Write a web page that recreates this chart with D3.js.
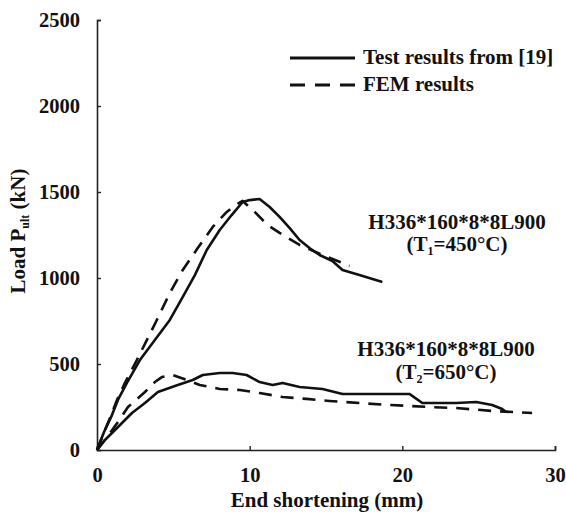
<!DOCTYPE html>
<html>
<head>
<meta charset="utf-8">
<script src="https://cdn.jsdelivr.net/npm/d3@7"></script>
<style>
  html, body { margin: 0; padding: 0; background: #fff; }
  svg { display: block; }
  text { font-family: "Liberation Serif", "Times New Roman", serif; font-weight: bold; fill: #111; }
</style>
</head>
<body>
<svg id="chart" width="566" height="521"></svg>
<script>
// ---- data (End shortening mm, Load kN) ----
const xTicks = [0, 10, 20, 30];
const yTicks = [0, 500, 1000, 1500, 2000, 2500];

const test450X = [0, 0.46, 0.98, 1.37, 1.96, 2.81, 3.79, 4.77, 5.62, 6.41, 7.19, 8.04, 8.82, 9.54, 10.0, 10.65, 11.31, 11.96, 12.61, 13.27, 13.92, 14.58, 15.42, 16.08, 17.19, 18.69];
const test450Y = [0, 105, 203, 291, 390, 523, 640, 756, 890, 1017, 1163, 1279, 1366, 1442, 1453, 1459, 1413, 1355, 1291, 1221, 1174, 1134, 1099, 1047, 1017, 977];

const fem450X = [0, 0.39, 0.85, 1.31, 1.83, 2.61, 3.27, 3.92, 4.77, 5.62, 6.60, 7.58, 8.50, 9.08, 9.54, 10.33, 11.18, 11.96, 13.27, 14.77, 16.08, 16.54];
const fem450Y = [0, 87, 186, 291, 390, 523, 640, 756, 913, 1047, 1174, 1297, 1384, 1424, 1448, 1384, 1308, 1262, 1192, 1134, 1087, 1070];

const test650X = [0, 0.52, 1.18, 2.29, 3.14, 3.99, 5.29, 6.27, 6.93, 8.04, 8.89, 9.80, 10.65, 11.50, 12.16, 13.27, 14.77, 16.08, 18.50, 20.46, 21.31, 23.53, 24.84, 25.88, 26.54, 26.80];
const test650Y = [0, 58, 116, 215, 273, 337, 378, 407, 436, 448, 448, 436, 395, 378, 390, 366, 355, 326, 326, 326, 273, 273, 279, 262, 238, 221];

const fem650X = [0, 0.72, 1.37, 2.03, 3.14, 3.79, 4.25, 4.97, 5.88, 6.73, 8.04, 9.35, 10.65, 12.16, 13.73, 15.23, 17.19, 19.15, 21.76, 23.53, 25.88, 28.50];
const fem650Y = [0, 81, 163, 250, 337, 395, 424, 436, 407, 378, 355, 349, 331, 308, 297, 285, 273, 262, 250, 244, 227, 215];

const legendLabels = ["Test results from [19]", "FEM results"];
const xTitle = "End shortening (mm)";

// ---- drawing ----
const svg = d3.select("#chart");
const x = d3.scaleLinear().domain([0, 30]).range([97, 555]);
const y = d3.scaleLinear().domain([0, 2500]).range([450, 20]);

const xAxis = d3.axisBottom(x).tickValues(xTicks).tickFormat(d3.format("d"))
  .tickSizeInner(-4).tickSizeOuter(-4).tickPadding(17);
const yAxis = d3.axisLeft(y).tickValues(yTicks).tickFormat(d3.format("d"))
  .tickSizeInner(-4).tickSizeOuter(-4).tickPadding(17);

const gx = svg.append("g").attr("transform", "translate(0,450)").call(xAxis);
const gy = svg.append("g").attr("transform", "translate(97,0)").call(yAxis);
[gx, gy].forEach(g => {
  g.selectAll("path.domain").attr("stroke", "#222").attr("stroke-width", 1.6);
  g.selectAll(".tick line").attr("stroke", "#222").attr("stroke-width", 1.4);
  g.selectAll(".tick text").style("font-size", "20.5px").style("font-family", '"Liberation Serif", serif')
    .style("font-weight", "bold").attr("fill", "#111");
});

const line = d3.line().x(d => x(d[0])).y(d => y(d[1])).curve(d3.curveLinear);
function series(xs, ys) { return xs.map((v, i) => [v, ys[i]]); }

const curves = [
  { d: series(test450X, test450Y), dash: null },
  { d: series(fem450X, fem450Y), dash: "13,9" },
  { d: series(test650X, test650Y), dash: null },
  { d: series(fem650X, fem650Y), dash: "13,9" }
];
curves.forEach(c => {
  svg.append("path").datum(c.d).attr("d", line)
    .attr("fill", "none").attr("stroke", "#111").attr("stroke-width", 2.6)
    .attr("stroke-linejoin", "round")
    .attr("stroke-dasharray", c.dash);
});

// legend
const legend = svg.append("g");
legend.append("line").attr("x1", 290).attr("x2", 355).attr("y1", 58).attr("y2", 58)
  .attr("stroke", "#111").attr("stroke-width", 2.8);
legend.append("line").attr("x1", 290).attr("x2", 355).attr("y1", 85).attr("y2", 85)
  .attr("stroke", "#111").attr("stroke-width", 2.8).attr("stroke-dasharray", "15,10");
legend.append("text").attr("x", 363).attr("y", 64).style("font-size", "21px").text(legendLabels[0]);
legend.append("text").attr("x", 363).attr("y", 91).style("font-size", "21px").text(legendLabels[1]);

// annotations
function annot(cx, y1, y2, sub, temp) {
  svg.append("text").attr("x", cx).attr("y", y1).attr("text-anchor", "middle")
    .style("font-size", "21px").text("H336*160*8*8L900");
  const t = svg.append("text").attr("x", cx).attr("y", y2).attr("text-anchor", "middle")
    .style("font-size", "21px");
  t.append("tspan").text("(T");
  t.append("tspan").attr("dy", 4).style("font-size", "12px").text(sub);
  t.append("tspan").attr("dy", -4).text("=" + temp + "°C)");
}
annot(457, 229, 251, "1", "450");
annot(446, 356, 379, "2", "650");

// axis titles
svg.append("text").attr("x", 327).attr("y", 507).attr("text-anchor", "middle")
  .style("font-size", "21px").text(xTitle);
const yt = svg.append("text").attr("transform", "translate(25,231) rotate(-90)")
  .attr("text-anchor", "middle").style("font-size", "21px");
yt.append("tspan").text("Load P");
yt.append("tspan").attr("dy", 4).style("font-size", "12px").text("ult");
yt.append("tspan").attr("dy", -4).text(" (kN)");
</script>
</body>
</html>
